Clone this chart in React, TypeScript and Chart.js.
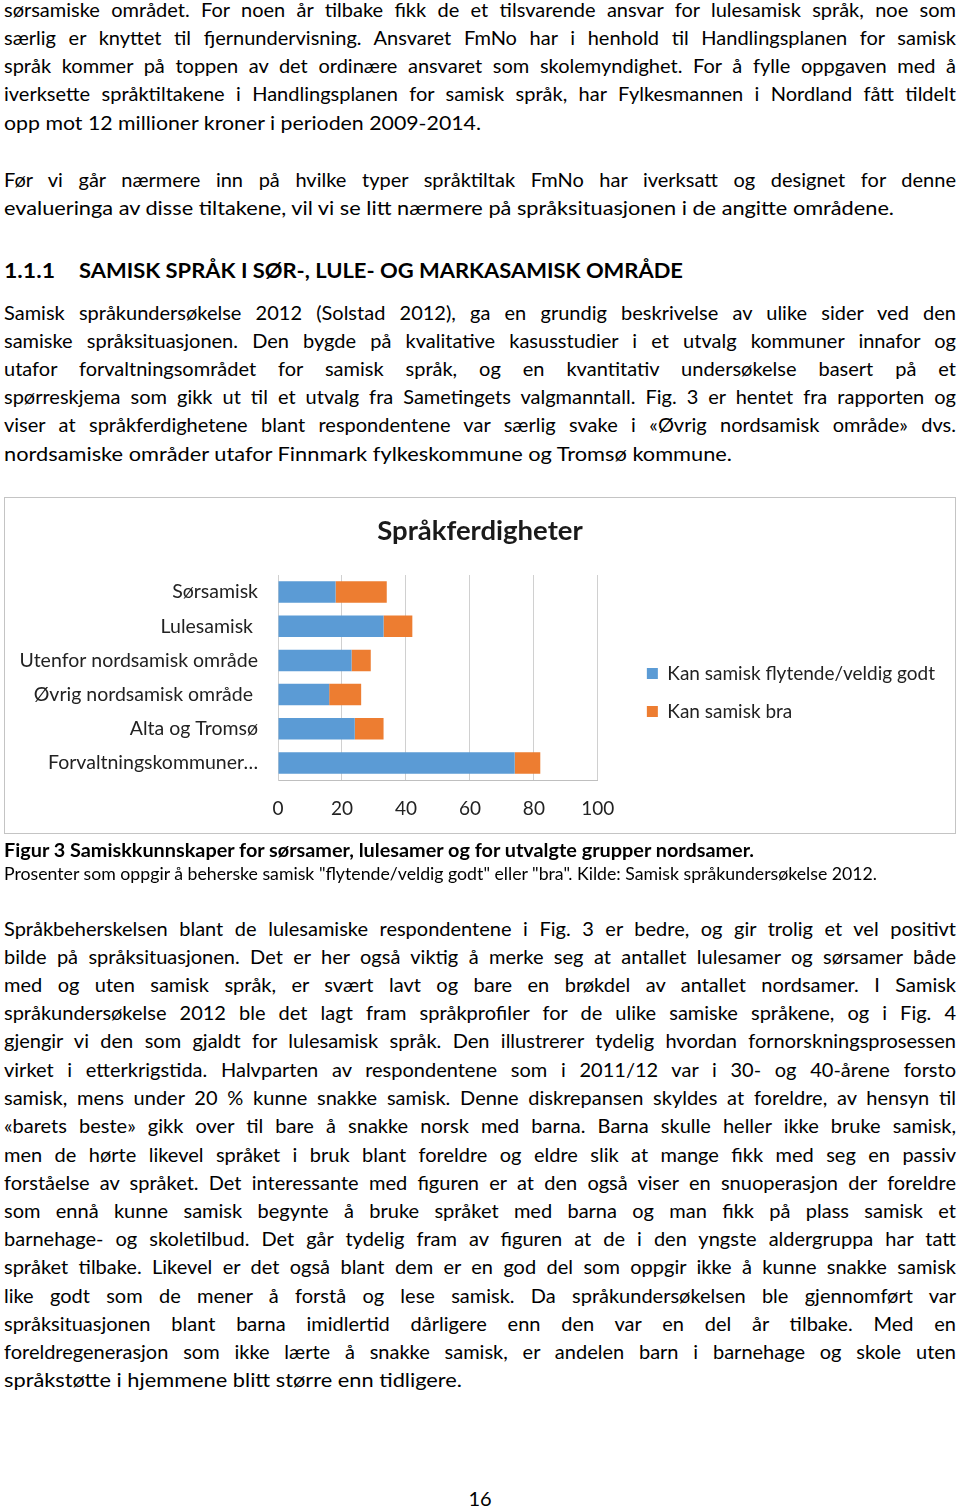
import React, { useEffect, useLayoutEffect, useRef } from "react";
import { Chart, registerables } from "chart.js";

Chart.register(...registerables);

// ---------- chart data ----------
const categories = [
  "Sørsamisk",
  "Lulesamisk ",
  "Utenfor nordsamisk område",
  "Øvrig nordsamisk område ",
  "Alta og Tromsø",
  "Forvaltningskommuner…",
];
const seriesNames = ["Kan samisk flytende/veldig godt", "Kan samisk bra"];
const flytende = [18, 33, 23, 16, 24, 74];
const bra = [16, 9, 6, 10, 9, 8];
const xMin = 0;
const xMax = 100;
const xStep = 20;
const chartTitle = "Språkferdigheter";

const BLUE = "#5b9bd5";
const ORANGE = "#ed7d31";
const FONT = "Lato, 'Noto Sans', sans-serif";

// ---------- page text ----------
type Ln = { t: string; y: number; w?: number };

const para1: Ln[] = [
  { t: "sørsamiske området. For noen år tilbake fikk de et tilsvarende ansvar for lulesamisk språk, noe som", y: 10 },
  { t: "særlig er knyttet til fjernundervisning. Ansvaret FmNo har i henhold til Handlingsplanen for samisk", y: 38 },
  { t: "språk kommer på toppen av det ordinære ansvaret som skolemyndighet. For å fylle oppgaven med å", y: 66 },
  { t: "iverksette språktiltakene i Handlingsplanen for samisk språk, har Fylkesmannen i Nordland fått tildelt", y: 94 },
  { t: "opp mot 12 millioner kroner i perioden 2009-2014.", y: 123, w: 477 },
];
const para2: Ln[] = [
  { t: "Før vi går nærmere inn på hvilke typer språktiltak FmNo har iverksatt og designet for denne", y: 180 },
  { t: "evalueringa av disse tiltakene, vil vi se litt nærmere på språksituasjonen i de angitte områdene.", y: 208, w: 890 },
];
const para3: Ln[] = [
  { t: "Samisk språkundersøkelse 2012 (Solstad 2012), ga en grundig beskrivelse av ulike sider ved den", y: 313 },
  { t: "samiske språksituasjonen. Den bygde på kvalitative kasusstudier i et utvalg kommuner innafor og", y: 341 },
  { t: "utafor forvaltningsområdet for samisk språk, og en kvantitativ undersøkelse basert på et", y: 369 },
  { t: "spørreskjema som gikk ut til et utvalg fra Sametingets valgmanntall. Fig. 3 er hentet fra rapporten og", y: 397 },
  { t: "viser at språkferdighetene blant respondentene var særlig svake i «Øvrig nordsamisk område» dvs.", y: 425 },
  { t: "nordsamiske områder utafor Finnmark fylkeskommune og Tromsø kommune.", y: 454, w: 728 },
];
const para4: Ln[] = [
  { t: "Språkbeherskelsen blant de lulesamiske respondentene i Fig. 3 er bedre, og gir trolig et vel positivt", y: 929 },
  { t: "bilde på språksituasjonen. Det er her også viktig å merke seg at antallet lulesamer og sørsamer både", y: 957 },
  { t: "med og uten samisk språk, er svært lavt og bare en brøkdel av antallet nordsamer. I Samisk", y: 985 },
  { t: "språkundersøkelse 2012 ble det lagt fram språkprofiler for de ulike samiske språkene, og i Fig. 4", y: 1013 },
  { t: "gjengir vi den som gjaldt for lulesamisk språk. Den illustrerer tydelig hvordan fornorskningsprosessen", y: 1041 },
  { t: "virket i etterkrigstida. Halvparten av respondentene som i 2011/12 var i 30- og 40-årene forsto", y: 1070 },
  { t: "samisk, mens under 20 % kunne snakke samisk. Denne diskrepansen skyldes at foreldre, av hensyn til", y: 1098 },
  { t: "«barets beste» gikk over til bare å snakke norsk med barna. Barna skulle heller ikke bruke samisk,", y: 1126 },
  { t: "men de hørte likevel språket i bruk blant foreldre og eldre slik at mange fikk med seg en passiv", y: 1155 },
  { t: "forståelse av språket. Det interessante med figuren er at den også viser en snuoperasjon der foreldre", y: 1183 },
  { t: "som ennå kunne samisk begynte å bruke språket med barna og man fikk på plass samisk et", y: 1211 },
  { t: "barnehage- og skoletilbud. Det går tydelig fram av figuren at de i den yngste aldergruppa har tatt", y: 1239 },
  { t: "språket tilbake. Likevel er det også blant dem er en god del som oppgir ikke å kunne snakke samisk", y: 1267 },
  { t: "like godt som de mener å forstå og lese samisk. Da språkundersøkelsen ble gjennomført var", y: 1296 },
  { t: "språksituasjonen blant barna imidlertid dårligere enn den var en del år tilbake. Med en", y: 1324 },
  { t: "foreldregenerasjon som ikke lærte å snakke samisk, er andelen barn i barnehage og skole uten", y: 1352 },
  { t: "språkstøtte i hjemmene blitt større enn tidligere.", y: 1380, w: 458 },
];

type TLProps = { t: string; y: number; w?: number; x?: number; size?: number; bold?: boolean };

function TextLine({ t, y, w, x = 4, size = 20, bold = false }: TLProps) {
  const divRef = useRef<HTMLDivElement>(null);
  const spanRef = useRef<HTMLSpanElement>(null);
  useLayoutEffect(() => {
    const d = divRef.current;
    const s = spanRef.current;
    if (!d || !s) return;
    const nat = s.getBoundingClientRect().width;
    const full = 956 - x;
    if (w === undefined && nat <= full - 1) {
      d.style.whiteSpace = "normal";
      d.style.textAlign = "justify";
      (d.style as any).textAlignLast = "justify";
    } else {
      const target = w ?? full;
      s.style.display = "inline-block";
      s.style.transformOrigin = "left center";
      s.style.transform = `scaleX(${target / nat})`;
    }
  }, [t, w, x]);
  return (
    <div
      ref={divRef}
      style={{
        position: "absolute",
        left: x,
        top: y - 15,
        width: 956 - x,
        height: 28,
        lineHeight: "28px",
        fontSize: size,
        fontWeight: bold ? 700 : 400,
        whiteSpace: "nowrap",
        fontFamily: FONT,
        color: "#000",
      }}
    >
      <span ref={spanRef}>{t}</span>
    </div>
  );
}

function ChartBox() {
  const ref = useRef<HTMLCanvasElement>(null);
  useEffect(() => {
    if (!ref.current) return;
    const tickFont = { family: FONT, size: 19 };
    const labelFont = { family: FONT, size: 19.5 };
    const legendFont = { family: FONT, size: 19 };
    const chart = new Chart(ref.current, {
      type: "bar",
      data: {
        labels: categories,
        datasets: [
          {
            label: seriesNames[0],
            data: flytende,
            backgroundColor: BLUE,
            barPercentage: 0.63,
            categoryPercentage: 1,
          },
          {
            label: seriesNames[1],
            data: bra,
            backgroundColor: ORANGE,
            barPercentage: 0.63,
            categoryPercentage: 1,
          },
        ],
      },
      options: {
        indexAxis: "y",
        responsive: false,
        maintainAspectRatio: false,
        animation: false,
        layout: { padding: { left: 11, right: 11, top: 0, bottom: 0 } },
        scales: {
          x: {
            stacked: true,
            min: xMin,
            max: xMax,
            ticks: { stepSize: xStep, padding: 17, font: tickFont, color: "#222" },
            grid: { color: "#d0d0d0", drawTicks: false },
            border: { display: true, color: "#bfbfbf" },
            afterFit: (s: any) => {
              s.height = 53;
            },
          } as any,
          y: {
            stacked: true,
            ticks: { padding: 20, font: labelFont, color: "#222" },
            grid: { display: false, drawTicks: false },
            border: { display: true, color: "#d0d0d0" },
            afterFit: (s: any) => {
              s.width = 263;
            },
          } as any,
          y2: {
            type: "category",
            position: "right",
            grid: { display: false, drawTicks: false },
            ticks: { display: false },
            border: { display: false },
            afterFit: (s: any) => {
              s.width = 30;
            },
          } as any,
        },
        plugins: {
          title: {
            display: true,
            text: chartTitle,
            font: { family: FONT, size: 27.5, weight: "bold" },
            color: "#1a1a1a",
            padding: { top: 17.5, bottom: 27.5 },
          },
          legend: {
            position: "right",
            align: "start",
            maxWidth: 420,
            title: { display: true, text: " ", font: { size: 10 }, padding: 68 },
            labels: {
              boxWidth: 11,
              boxHeight: 11,
              padding: 19,
              font: legendFont,
              color: "#222",
            },
          },
          tooltip: { enabled: false },
        },
      },
    });
    return () => chart.destroy();
  }, []);
  return (
    <>
      <canvas
        ref={ref}
        width={952}
        height={336}
        style={{ position: "absolute", left: 4, top: 497, width: 952, height: 336 }}
      />
      <div
        style={{
          position: "absolute",
          left: 4,
          top: 497,
          width: 952,
          height: 337,
          boxSizing: "border-box",
          border: "1px solid #c4c4c4",
          pointerEvents: "none",
        }}
      />
    </>
  );
}

export default function App() {
  return (
    <div
      style={{
        position: "absolute",
        left: 0,
        top: 0,
        width: 960,
        height: 1509,
        overflow: "hidden",
        background: "#fff",
        fontFamily: FONT,
      }}
    >
      {[...para1, ...para2, ...para3].map((l, i) => (
        <TextLine key={"a" + i} t={l.t} y={l.y} w={l.w} />
      ))}
      <TextLine t="1.1.1" y={271} w={51} bold />
      <TextLine t="SAMISK SPRÅK I SØR-, LULE- OG MARKASAMISK OMRÅDE" y={271} x={79} w={604} bold />
      <ChartBox />
      <TextLine
        t="Figur 3 Samiskkunnskaper for sørsamer, lulesamer og for utvalgte grupper nordsamer."
        y={851}
        w={750}
        size={18}
        bold
      />
      <TextLine
        t={'Prosenter som oppgir å beherske samisk "flytende/veldig godt" eller "bra". Kilde: Samisk språkundersøkelse 2012.'}
        y={875}
        w={873}
        size={17}
      />
      {para4.map((l, i) => (
        <TextLine key={"b" + i} t={l.t} y={l.y} w={l.w} />
      ))}
      <div
        style={{
          position: "absolute",
          left: 0,
          top: 1499 - 15,
          width: 960,
          height: 28,
          lineHeight: "28px",
          textAlign: "center",
          fontSize: 20,
          fontFamily: FONT,
          color: "#000",
        }}
      >
        16
      </div>
    </div>
  );
}
